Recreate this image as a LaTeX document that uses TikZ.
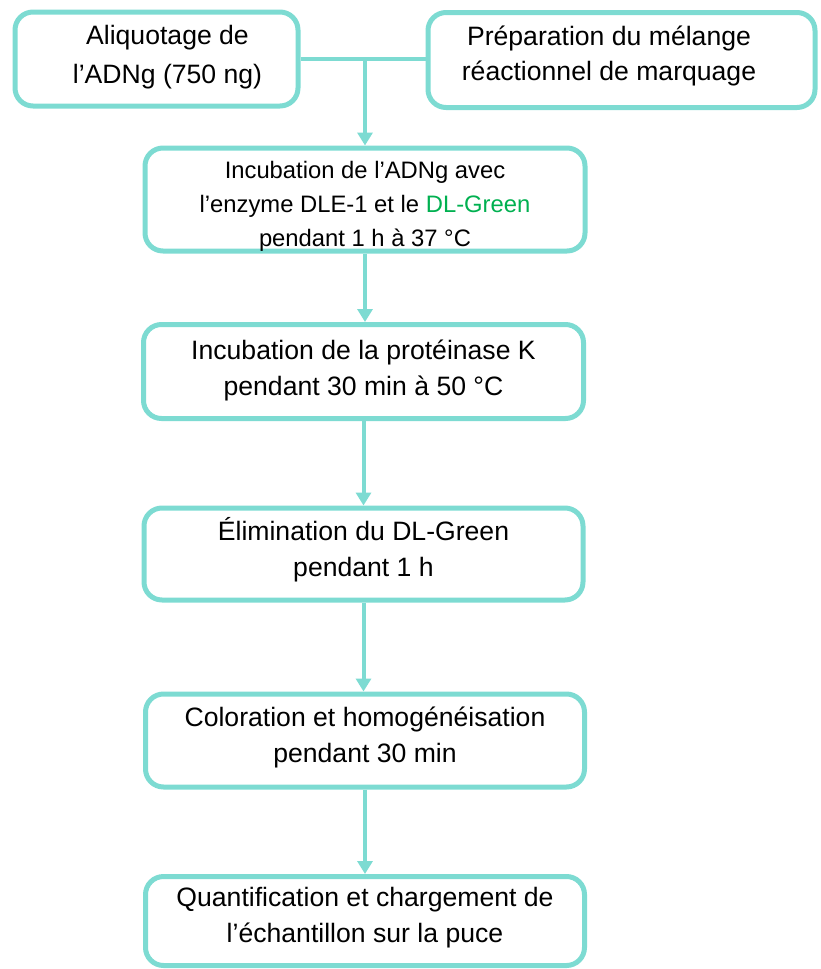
\documentclass[tikz,border=0pt]{standalone}
\usepackage{fontspec}
\setmainfont{Liberation Sans}
\usepackage{xcolor}
\usetikzlibrary{arrows, arrows.meta}
\usetikzlibrary{calc}
\definecolor{turquoise}{RGB}{125,219,210}
\definecolor{dlgreen}{RGB}{0,176,80}

\begin{document}
\begin{tikzpicture}[x=0.5pt,y=-0.5pt,
	stepbox/.style={draw=turquoise, line width=2.5pt, rounded corners=9pt, inner sep=0pt},
	steptext/.style={align=center, inner sep=0pt, font=\fontsize{13.3}{18}\selectfont},
	flow/.style={draw=turquoise, line width=2pt, -{Triangle[width=7.5pt,length=6.5pt]}},
	joinline/.style={draw=turquoise, line width=2pt}]
	\useasboundingbox (0,0) rectangle (820,969);
	% draw steps
	\node[stepbox, minimum width=141.5pt, minimum height=47pt,
		label={[steptext, xshift=5.5pt, yshift=1pt, font=\fontsize{13.3}{19.5}\selectfont]center:{Aliquotage de\\l’ADNg (750 ng)}}] (alq) at (156.5,59) {};
	\node[stepbox, minimum width=193.5pt, minimum height=47.5pt,
		label={[steptext, xshift=-6.25pt, yshift=2pt, font=\fontsize{13.3}{17.5}\selectfont]center:{Préparation du mélange\\réactionnel de marquage}}] (prep) at (621.5,60) {};
	\node[stepbox, minimum width=220pt, minimum height=51.5pt,
		label={[steptext, yshift=-3.25pt, font=\fontsize{11.9}{17}\selectfont]center:{Incubation de l’ADNg avec\\l’enzyme DLE-1 et le \textcolor{dlgreen}{DL-Green}\\pendant 1 h à 37 °C}}] (incub) at (365,199.5) {};
	\node[stepbox, minimum width=220pt, minimum height=47pt,
		label={[steptext, yshift=0.75pt]center:{Incubation de la protéinase K\\pendant 30 min à 50 °C}}] (prot) at (363.5,371.5) {};
	\node[stepbox, minimum width=219.5pt, minimum height=46pt,
		label={[steptext, yshift=2pt]center:{Élimination du DL-Green\\pendant 1 h}}] (elim) at (363.5,554) {};
	\node[stepbox, minimum width=219.5pt, minimum height=46.5pt,
		label={[steptext, yshift=1.75pt]center:{Coloration et homogénéisation\\pendant 30 min}}] (color) at (365,740.5) {};
	\node[stepbox, minimum width=219.5pt, minimum height=44.5pt,
		label={[steptext, yshift=1.75pt]center:{Quantification et chargement de\\l’échantillon sur la puce}}] (quant) at (365,921) {};
	% add arrows
	\coordinate (split) at (alq.east -| incub.north);
	\draw[joinline] (alq.east) -- (alq.east -| prep.west);
	\draw[flow] (split) -- (incub.north);
	\draw[flow] (incub.south) -- (incub.south |- prot.north);
	\draw[flow] (prot.south) -- (prot.south |- elim.north);
	\draw[flow] (elim.south) -- (elim.south |- color.north);
	\draw[flow] (color.south) -- (quant.north);
\end{tikzpicture}
\end{document}
